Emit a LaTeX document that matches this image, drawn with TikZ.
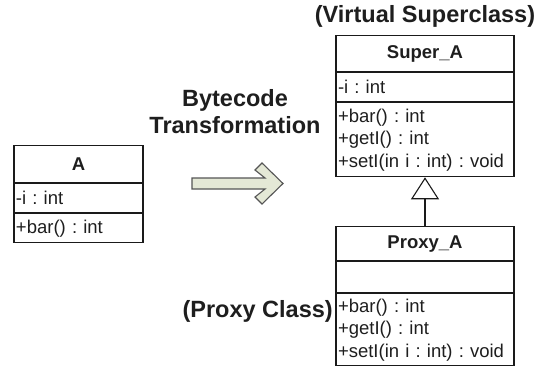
\documentclass[tikz,border=0pt]{standalone}
\usepackage{fontspec}
\setmainfont{Liberation Sans}
\usetikzlibrary{positioning, arrows.meta}
\definecolor{umlline}{HTML}{1A1A1A}
\definecolor{umltext}{HTML}{1E1E1E}
\definecolor{xformfill}{HTML}{E4E8D6}
\definecolor{xformedge}{HTML}{555555}
\newcommand{\umlfont}{\fontsize{18.5bp}{22.5bp}\selectfont}
\newcommand{\tagfont}{\bfseries\fontsize{23.5bp}{27bp}\selectfont}
\frenchspacing

\tikzset{
  umlbox/.style={draw=umlline, line width=1.1bp, inner xsep=2bp, inner ysep=0pt,
    text=umltext, font=\umlfont, anchor=north},
  umlhead/.style={umlbox, font=\umlfont\bfseries, align=center},
  umlbody/.style={umlbox, align=left},
  tagtext/.style={text=umltext, font=\tagfont, inner sep=0pt}
}

\begin{document}
\begin{tikzpicture}[x=1bp, y=-1bp]
  \useasboundingbox (0,0) rectangle (538,368);

  % original class
  \node[umlhead, text width=125bp, minimum height=37bp] (aHead) at (78.5,145) {A};
  \node[umlbody, text width=125bp, minimum height=29bp, below=0pt of aHead] (aAttr) {-i : int};
  \node[umlbody, text width=125bp, minimum height=29bp, below=0pt of aAttr] (aOps) {+bar() : int};

  % virtual superclass
  \node[umlhead, text width=174bp, minimum height=36bp] (superHead) at (425,35) {Super\_A};
  \node[umlbody, text width=174bp, minimum height=29bp, below=0pt of superHead] (superAttr) {-i : int};
  \node[umlbody, text width=174bp, minimum height=74bp, below=0pt of superAttr] (superOps)
    {+bar() : int\\+getI() : int\\+setI(in i : int) : void};

  % proxy class
  \node[umlhead, text width=174bp, minimum height=34bp] (proxyHead) at (425,226) {Proxy\_A};
  \node[umlbody, text width=174bp, minimum height=31bp, below=0pt of proxyHead] (proxyAttr) {};
  \node[umlbody, text width=174bp, minimum height=72bp, below=0pt of proxyAttr] (proxyOps)
    {+bar() : int\\+getI() : int\\+setI(in i : int) : void};

  % generalization
  \draw[umlline, line width=1.1bp, -{Triangle[open, length=22bp, width=28bp]}]
    (proxyHead.north) -- (superOps.south);

  % labels
  \node[tagtext] (virtTag) at (425,16) {(Virtual Superclass)};
  \node[tagtext, anchor=east] (proxyTag) at (333,311) {(Proxy Class)};
  \node[tagtext, align=center] (xformTag) at (235,112) {Bytecode\\Transformation};

  % transformation arrow
  \draw[xformedge, fill=xformfill, line width=1.1bp, line join=miter]
    (192,178) -- (265,178) -- (255,170) -- (262,163) -- (283,183.5) -- (262,204)
    -- (255,197) -- (265,189) -- (192,189) -- cycle;
\end{tikzpicture}
\end{document}
